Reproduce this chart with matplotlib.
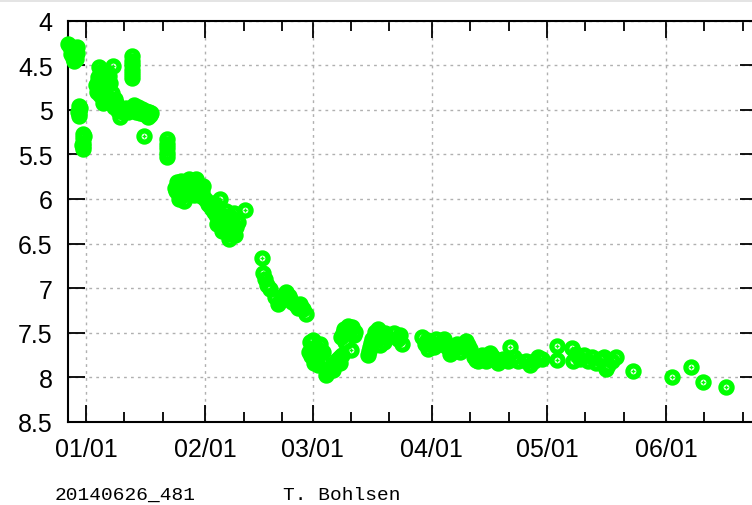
import numpy as np
import matplotlib
matplotlib.use("Agg")
import matplotlib.pyplot as plt
import matplotlib.dates as mdates
from matplotlib.ticker import FormatStrFormatter
from matplotlib.patches import Rectangle

# days since 2014-01-01 and level
dec_jan_day = [-4.7, -3.6, -3.1, -2.9, -2.6, -3.1, -4.2, -3.9, -3.4, -2.4, -2.3,
               -1.8, -1.8, -1.8, -1.8, -1.5, -2.0,
               -0.8, -0.8, -0.8, -0.8, -0.8, -0.5, -1.0,
               3.4, 4.2, 3.1, 4.7, 2.6, 3.9, 5.2, 3.6, 4.9, 4.4, 5.7, 7.0, 6.3, 6.8, 7.6, 7.3, 8.3, 8.9, 7.8,
               2.8, 4.0, 5.0, 5.5, 6.0, 6.5, 8.0, 9.5, 10.3, 4.5, 3.0, 10.5, 11.0,
               12.0, 12.0, 12.0, 12.0, 12.0, 12.0,
               12.5, 13.5, 14.6, 15.6, 16.7, 16.1, 14.1, 13.0, 15.0, 17.0, 16.5,
               15.2,
               21.1, 21.1, 21.1, 21.1, 21.1,
               23.7, 23.4, 24.5, 25.5, 26.0, 27.1, 28.6, 29.4, 30.2, 31.0, 28.1,
               24.0, 25.0, 26.5, 27.5, 29.0, 30.0, 25.8, 24.2, 27.8,
               24.8, 26.8, 30.5, 23.2]
dec_jan_lvl = [4.26, 4.30, 4.34, 4.39, 4.43, 4.45, 4.30, 4.38, 4.42, 4.36, 4.30,
               4.96, 5.00, 5.04, 5.07, 4.98, 5.02,
               5.27, 5.32, 5.37, 5.41, 5.44, 5.30, 5.40,
               4.52, 4.57, 4.63, 4.66, 4.72, 4.77, 4.75, 4.84, 4.88, 4.92, 4.59, 4.51, 4.70, 4.81, 4.88, 4.97, 5.01, 5.08, 4.92,
               4.80, 4.70, 4.80, 4.68, 4.62, 4.90, 4.95, 5.02, 5.00, 4.60, 4.68, 4.98, 5.03,
               4.40, 4.45, 4.50, 4.55, 4.60, 4.65,
               4.95, 4.97, 4.99, 5.01, 5.06, 5.08, 5.04, 5.02, 5.05, 5.04, 5.02,
               5.30,
               5.33, 5.38, 5.43, 5.48, 5.53,
               5.81, 5.91, 5.98, 6.02, 5.89, 5.83, 5.78, 5.84, 5.92, 6.00, 5.96,
               5.86, 5.93, 5.95, 5.90, 5.88, 5.97, 5.84, 6.00, 5.80,
               5.80, 5.78, 5.86, 5.88]

feb_day = [31.8, 32.8, 33.9, 34.9, 35.9, 37.0, 37.2, 38.0, 38.5, 39.1, 36.4, 34.9,
           32.2, 33.3, 34.3, 35.3, 36.8, 37.5, 38.2, 35.5, 33.0, 36.0,
           33.5, 37.8, 39.5, 34.0, 35.5, 38.8,
           41.4, 45.8,
           46.1, 46.6, 47.1, 47.9,
           49.2, 50.0, 51.0, 52.1, 52.9, 53.6, 54.7, 55.7, 56.5, 57.3,
           50.5, 53.2, 55.2, 56.0, 51.5]
feb_lvl = [6.06, 6.11, 6.18, 6.25, 6.32, 6.39, 6.45, 6.25, 6.16, 6.32, 6.14, 6.00,
           6.08, 6.15, 6.20, 6.28, 6.20, 6.30, 6.36, 6.18, 6.04, 6.24,
           6.06, 6.20, 6.26, 6.28, 6.36, 6.40,
           6.12, 6.66,
           6.83, 6.90, 6.97, 7.01,
           7.10, 7.18, 7.12, 7.04, 7.09, 7.16, 7.19, 7.18, 7.23, 7.29,
           7.14, 7.12, 7.22, 7.21, 7.08]

mar_day = [58.3, 58.9, 58.6, 59.4, 60.4, 60.9, 61.5, 59.0, 60.0, 61.0, 59.8,
           58.0, 61.8, 60.3, 59.2,
           62.5, 63.5, 64.6, 65.6, 66.7, 69.0, 63.0, 64.0, 65.1, 66.2, 64.2, 66.0,
           66.4, 67.2, 68.2, 69.3, 70.1, 67.4, 68.7, 66.9, 69.8,
           73.4, 74.0, 74.5, 75.3, 76.0, 77.1, 77.9, 76.6, 73.7, 74.3, 75.8, 76.8, 77.5,
           80.2, 81.3, 82.3, 81.8]
mar_lvl = [7.60, 7.68, 7.76, 7.84, 7.74, 7.63, 7.82, 7.70, 7.80, 7.70, 7.66,
           7.72, 7.72, 7.86, 7.58,
           7.97, 7.91, 7.86, 7.79, 7.75, 7.69, 7.94, 7.88, 7.82, 7.77, 7.92, 7.84,
           7.55, 7.46, 7.42, 7.44, 7.49, 7.60, 7.47, 7.50, 7.52,
           7.75, 7.66, 7.57, 7.49, 7.46, 7.55, 7.50, 7.64, 7.70, 7.62, 7.52, 7.50, 7.60,
           7.50, 7.57, 7.63, 7.52]

apr_day = [87.5, 88.3, 89.1, 90.1, 91.1, 92.2, 93.2, 94.0, 94.8, 95.8, 96.6, 97.4,
           88.8, 90.6, 92.7, 95.3, 97.0,
           99.0, 100.0, 101.0, 102.1, 103.1, 104.2, 105.2, 106.3, 107.3, 108.6, 109.9, 110.4, 111.5, 112.5,
           99.5, 101.5, 103.6, 105.8, 108.0]
apr_lvl = [7.55, 7.63, 7.68, 7.61, 7.57, 7.63, 7.57, 7.66, 7.74, 7.68, 7.63, 7.71,
           7.58, 7.66, 7.60, 7.72, 7.66,
           7.59, 7.68, 7.77, 7.82, 7.75, 7.82, 7.73, 7.79, 7.84, 7.79, 7.82, 7.66, 7.77, 7.82,
           7.64, 7.80, 7.79, 7.76, 7.81]

may_jun_day = [114.6, 115.6, 116.7, 117.7, 118.8,
               122.7, 122.7, 126.6, 126.8,
               127.6, 128.6, 129.7, 130.7, 131.8, 132.8, 133.9, 134.9, 135.9, 137.0, 138.0, 135.4,
               142.4, 152.6, 157.6, 160.7, 166.7]
may_jun_lvl = [7.82, 7.86, 7.82, 7.77, 7.79,
               7.65, 7.80, 7.67, 7.82,
               7.74, 7.79, 7.75, 7.82, 7.77, 7.84, 7.79, 7.77, 7.86, 7.82, 7.77, 7.91,
               7.93, 8.00, 7.88, 8.05, 8.11]

y_ticks = [4, 4.5, 5, 5.5, 6, 6.5, 7, 7.5, 8, 8.5]

days = np.array(dec_jan_day + feb_day + mar_day + apr_day + may_jun_day)
lvl = np.array(dec_jan_lvl + feb_lvl + mar_lvl + apr_lvl + may_jun_lvl)
t0 = np.datetime64('2014-01-01T00:00:00')
x = mdates.date2num(t0 + (days * 86400).astype('timedelta64[s]'))

fig = plt.figure(figsize=(7.52, 5.06), dpi=100)
fig.patches.append(Rectangle((0, 1 - 3 / 506), 1, 3 / 506, transform=fig.transFigure,
                             facecolor='#e4e4e4', edgecolor='none'))
ax = fig.add_axes([68 / 752, 83 / 506, 689 / 752, 401.5 / 506])

green = '#00ff00'
ax.plot(x, lvl, linestyle='none', marker='o', ms=8, mew=3.8, mfc='none', mec=green,
        clip_on=False, zorder=3)
ax.plot(x, lvl, linestyle='none', marker='+', ms=3.5, mew=1.0, color=green,
        clip_on=False, zorder=3)

xmin = mdates.date2num(np.datetime64('2013-12-27T07:00'))
xmax = mdates.date2num(np.datetime64('2014-06-24T17:00'))
ax.set_xlim(xmin, xmax)
ax.set_ylim(8.5, 4)

ax.xaxis.set_major_locator(mdates.MonthLocator(bymonthday=1))
ax.xaxis.set_minor_locator(mdates.DayLocator(bymonthday=[11, 21]))
ax.xaxis.set_major_formatter(mdates.DateFormatter('%m/%d'))
ax.set_yticks(y_ticks)
ax.yaxis.set_major_formatter(FormatStrFormatter('%g'))

ax.tick_params(which='major', direction='in', length=12, width=1.3,
               top=True, right=True, labelsize=18, pad=11)
ax.tick_params(which='minor', direction='in', length=7, width=1.3, top=True)
for lab in ax.get_xticklabels() + ax.get_yticklabels():
    lab.set_fontfamily('Liberation Sans')

ax.grid(True, which='major', color='#b0b0b0', linestyle=(0, (2, 3)), linewidth=1.0)
ax.set_axisbelow(True)
for sp in ax.spines.values():
    sp.set_linewidth(1.5)

fig.text(55 / 752, 1 - 500 / 506, '20140626_481', fontsize=14, family='Liberation Mono',
         ha='left', va='baseline')
fig.text(283 / 752, 1 - 500 / 506, 'T. Bohlsen', fontsize=14, family='Liberation Mono',
         ha='left', va='baseline')

fig.savefig('out.png', dpi=100)
